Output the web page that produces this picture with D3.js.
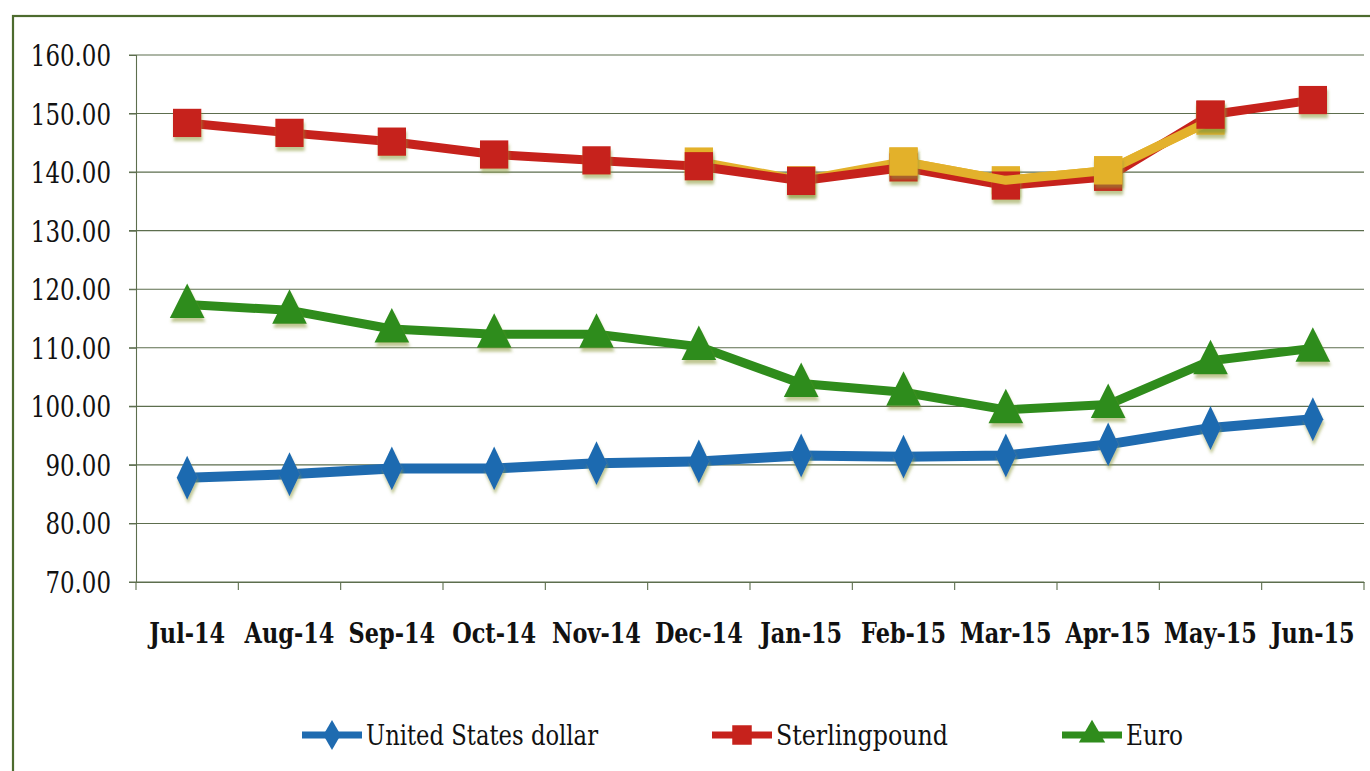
<!DOCTYPE html>
<html><head><meta charset="utf-8">
<script src="https://cdn.jsdelivr.net/npm/d3@7"></script>
<style>html,body{margin:0;padding:0;background:#fff;}svg{display:block;}</style>
</head><body>
<script>
const categories = ["Jul-14","Aug-14","Sep-14","Oct-14","Nov-14","Dec-14","Jan-15","Feb-15","Mar-15","Apr-15","May-15","Jun-15"];
const usd      = [87.8, 88.4, 89.4, 89.4, 90.3, 90.6, 91.6, 91.4, 91.6, 93.5, 96.3, 97.8];
const sterling = [148.4, 146.7, 145.2, 143.0, 142.0, 141.0, 138.5, 140.8, 137.7, 139.2, 149.8, 152.3];
const euro     = [117.4, 116.4, 113.2, 112.3, 112.3, 110.2, 103.9, 102.4, 99.4, 100.3, 107.8, 109.9];
// unlabelled yellow trace visible behind/over the sterling line in the reference
const yellowTrace = [null, null, null, null, null, 141.8, 138.6, 141.8, 138.6, 140.3, 148.8, null];
const yTicks = [70, 80, 90, 100, 110, 120, 130, 140, 150, 160];
const seriesNames = ["United States dollar", "Sterlingpound", "Euro"];

const W = 1370, H = 771;
const FF = "'DejaVu Serif', serif";
const svg = d3.select("body").append("svg").attr("width", W).attr("height", H);
const defs = svg.append("defs");
const f = defs.append("filter").attr("id","sh").attr("x","-50%").attr("y","-50%").attr("width","200%").attr("height","200%");
f.append("feDropShadow").attr("dx",1).attr("dy",4).attr("stdDeviation",1.8).attr("flood-color","#8a9a3a").attr("flood-opacity",0.55);

svg.append("rect").attr("x",13).attr("y",16).attr("width",1400).attr("height",800)
  .attr("fill","none").attr("stroke","#4d6b2e").attr("stroke-width",2.2);

const x = d3.scaleBand().domain(categories).range([136, 1364]).padding(0);
const y = d3.scaleLinear().domain([70, 160]).range([582, 55]);
const cx = c => x(c) + x.bandwidth()/2;

svg.append("g").selectAll("line").data(yTicks).join("line")
  .attr("x1",129).attr("x2",1364).attr("y1",d=>y(d)).attr("y2",d=>y(d))
  .attr("stroke","#5d6e4e").attr("stroke-width",1.1);

// y axis
const ySX = 0.79;
const yAxis = svg.append("g").attr("transform","translate(136,0)")
  .call(d3.axisLeft(y).tickValues(yTicks).tickFormat(d3.format(".2f")).tickSize(7));
yAxis.attr("font-family",null);
yAxis.select(".domain").attr("stroke","#5d6e4e").attr("stroke-width",1.1);
yAxis.selectAll(".tick line").attr("stroke","#5d6e4e");
yAxis.selectAll("text").style("font-family",FF).attr("font-size",29).attr("fill","#111")
  .attr("dy","0.36em").attr("x",-25/ySX).attr("transform",`scale(${ySX},1)`);

// x axis
const xSX = 0.83;
const xAxis = svg.append("g").attr("transform",`translate(0,${y(70)})`)
  .call(d3.axisBottom(x).tickSize(0).tickPadding(0));
xAxis.attr("font-family",null);
xAxis.select(".domain").attr("stroke","#5d6e4e").attr("stroke-width",1.1);
xAxis.selectAll("text").style("font-family",FF).attr("font-size",27).attr("font-weight","bold")
  .attr("fill","#111").attr("dy",0).attr("y",61).attr("transform",`scale(${xSX},1)`);
svg.append("g").selectAll("line").data(categories.concat(["__end"])).join("line")
  .attr("x1",(d,i)=> i<categories.length ? x(d) : 1364)
  .attr("x2",(d,i)=> i<categories.length ? x(d) : 1364)
  .attr("y1",y(70)).attr("y2",y(70)+8).attr("stroke","#5d6e4e").attr("stroke-width",1.1);

const colors = {usd:"#1f6bb0", gbp:"#c6221c", eur:"#2f8c1c", yel:"#e3b12c"};
const lineGen = d3.line().defined(d=>d.v!=null).x(d=>cx(d.c)).y(d=>y(d.v));
const toPts = arr => arr.map((v,i)=>({c:categories[i], v}));
function drawLine(g, arr, color, w){
  g.append("path").datum(toPts(arr)).attr("d",lineGen).attr("fill","none")
    .attr("stroke",color).attr("stroke-width",w).attr("stroke-linejoin","round");
}
const sym = {
  diamond: d3.symbol().type(d3.symbolDiamond).size(420),
  square:  d3.symbol().type(d3.symbolSquare).size(800),
  triangle:d3.symbol().type(d3.symbolTriangle).size(520)
};
function drawMarkers(g, arr, color, kind, filterIdx){
  g.append("g").attr("filter","url(#sh)").selectAll("path")
    .data(toPts(arr).map((d,i)=>({...d,i})).filter(d=>d.v!=null && (!filterIdx || filterIdx.includes(d.i))))
    .join("path").attr("d",sym[kind])
    .attr("transform",d=>`translate(${cx(d.c)},${y(d.v)})${kind==="diamond"?" scale(0.95,1.15)":""}${kind==="triangle"?" translate(0,2) scale(1,1.15)":""}`)
    .attr("fill",color);
}
const plot = svg.append("g");
drawLine(plot, euro, colors.eur, 9);
drawMarkers(plot, euro, colors.eur, "triangle");
drawLine(plot, usd, colors.usd, 10);
drawMarkers(plot, usd, colors.usd, "diamond");
drawLine(plot, yellowTrace, colors.yel, 9);
drawMarkers(plot, yellowTrace, colors.yel, "square");
drawLine(plot, sterling, colors.gbp, 9);
drawMarkers(plot, sterling, colors.gbp, "square");
drawLine(plot, yellowTrace.map((v,i)=> (i>=7 && i<=10) ? v : null), colors.yel, 9);
drawMarkers(plot, yellowTrace, colors.yel, "square", [7,9]);
drawMarkers(plot, sterling, colors.gbp, "square", [10]);

// legend
const legend = svg.append("g");
const legendItems = [
  {name: seriesNames[0], color: colors.usd, kind:"diamond", x0:302, len:232},
  {name: seriesNames[1], color: colors.gbp, kind:"square",  x0:712, len:172},
  {name: seriesNames[2], color: colors.eur, kind:"triangle",x0:1062, len:57}
];
const ly = 735;
legendItems.forEach(it=>{
  const g = legend.append("g");
  g.append("line").attr("x1",it.x0).attr("x2",it.x0+60).attr("y1",ly).attr("y2",ly)
    .attr("stroke",it.color).attr("stroke-width",7);
  const s = it.kind==="square" ? d3.symbol().type(d3.symbolSquare).size(380)
          : it.kind==="diamond" ? d3.symbol().type(d3.symbolDiamond).size(260)
          : d3.symbol().type(d3.symbolTriangle).size(300);
  g.append("path").attr("d",s).attr("transform",`translate(${it.x0+30},${ly})`).attr("fill",it.color);
  g.append("text").attr("x",it.x0+64).attr("y",ly+10).text(it.name)
    .style("font-family",FF).attr("font-size",27).attr("fill","#111")
    .attr("textLength",it.len).attr("lengthAdjust","spacingAndGlyphs");
});
</script>
</body></html>
